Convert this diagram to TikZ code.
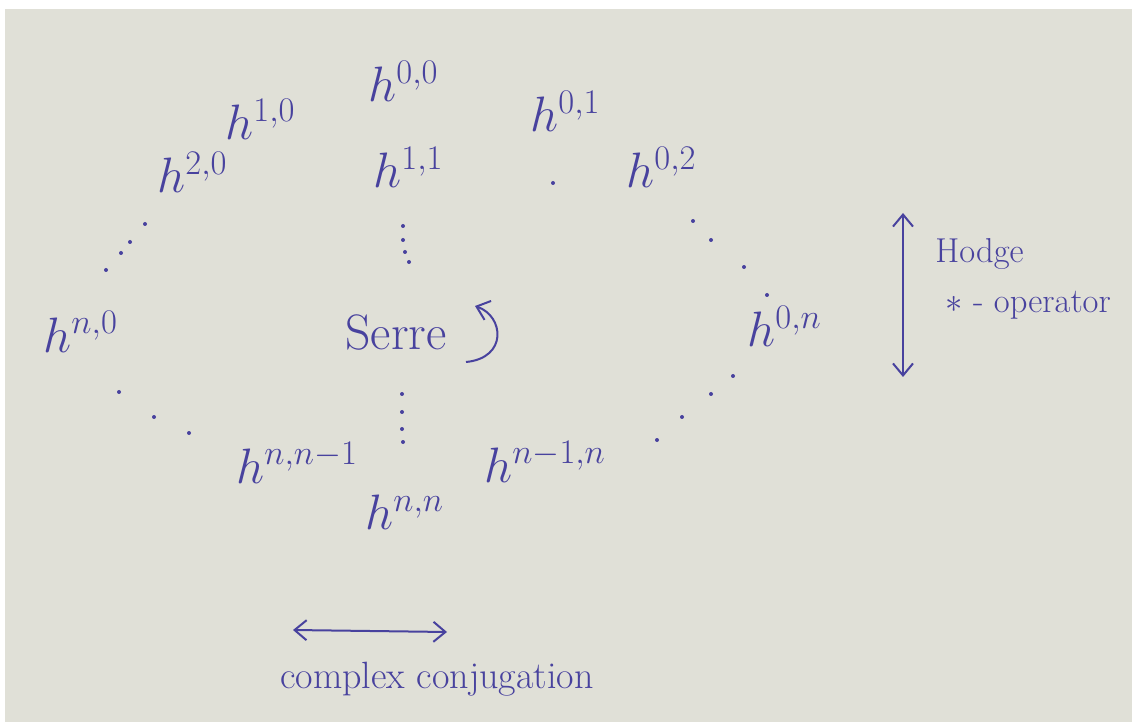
\documentclass[tikz,border=0pt]{standalone}
\usetikzlibrary{arrows.meta}
\definecolor{penblue}{RGB}{72,66,158}
\definecolor{paper}{RGB}{224,224,215}
\newcommand{\hodgenum}[1]{$h^{\scriptscriptstyle #1}$}

\begin{document}
\begin{tikzpicture}[x=0.5pt,y=-0.5pt,
    hnum/.style={anchor=base west,inner sep=0pt,text=penblue,font=\Huge},
    note/.style={anchor=base west,inner sep=0pt,text=penblue,font=\LARGE},
    pen/.style={penblue,line width=1pt},
    barb/.style={{Straight Barb[length=6pt,width=10pt]}-{Straight Barb[length=6pt,width=10pt]}}]
        \useasboundingbox (0,0) rectangle (1132,722);
        \fill[white] (0,0) rectangle (1132,722);
        \fill[paper] (5,9) rectangle (1132,722);
        \node[hnum] (h00) at (368,102) {\hodgenum{0,0}};
        \node[hnum] (h10) at (225,140) {\hodgenum{1,0}};
        \node[hnum] (h01) at (530,132) {\hodgenum{0,1}};
        \node[hnum] (h20) at (157,193) {\hodgenum{2,0}};
        \node[hnum] (h11) at (373,188) {\hodgenum{1,1}};
        \node[hnum] (h02) at (626,188) {\hodgenum{0,2}};
        \node[hnum] (hn0) at (43,352) {\hodgenum{n,0}};
        \node[hnum] (h0n) at (747,347) {\hodgenum{0,n}};
        \node[hnum] (hnn1) at (236,483) {\hodgenum{n,n-1}};
        \node[hnum] (hn1n) at (484,482) {\hodgenum{n-1,n}};
        \node[hnum] (hnn) at (365,530) {\hodgenum{n,n}};
        \foreach \x/\y in {145/224,130/242,121/253,106/270,403/226,403/240,405/252,409/262,
          553/183,693/221,711/240,744/267,767/295,119/392,154/417,189/433,
          402/394,402/412,402/429,403/442,733/376,711/394,682/417,657/440}{
          \fill[penblue] (\x,\y) circle (1pt);
        }
        \node[hnum] (serre) at (345,350) {Serre};
        \coordinate (serreA) at (466,362);
        \coordinate (serreB) at (475,306);
        \draw[pen,-{Straight Barb[length=6pt,width=10pt]}] (serreA) .. controls (508,358) and (504,316) .. (serreB);
        \coordinate (hodgeTop) at (903,213);
        \coordinate (hodgeBot) at (903,377);
        \draw[pen,barb] (hodgeTop) -- (hodgeBot);
        \node[note] (hodge) at (935,263) {Hodge};
        \node[note] (star) at (945,313) {$*$ - operator};
        \coordinate (conjL) at (293,630);
        \coordinate (conjR) at (447,632);
        \draw[pen,barb] (conjL) -- (conjR);
        \node[note,anchor=base,font=\fontsize{19}{23}\selectfont] (conj) at (437,688) {complex conjugation};
\end{tikzpicture}
\end{document}
